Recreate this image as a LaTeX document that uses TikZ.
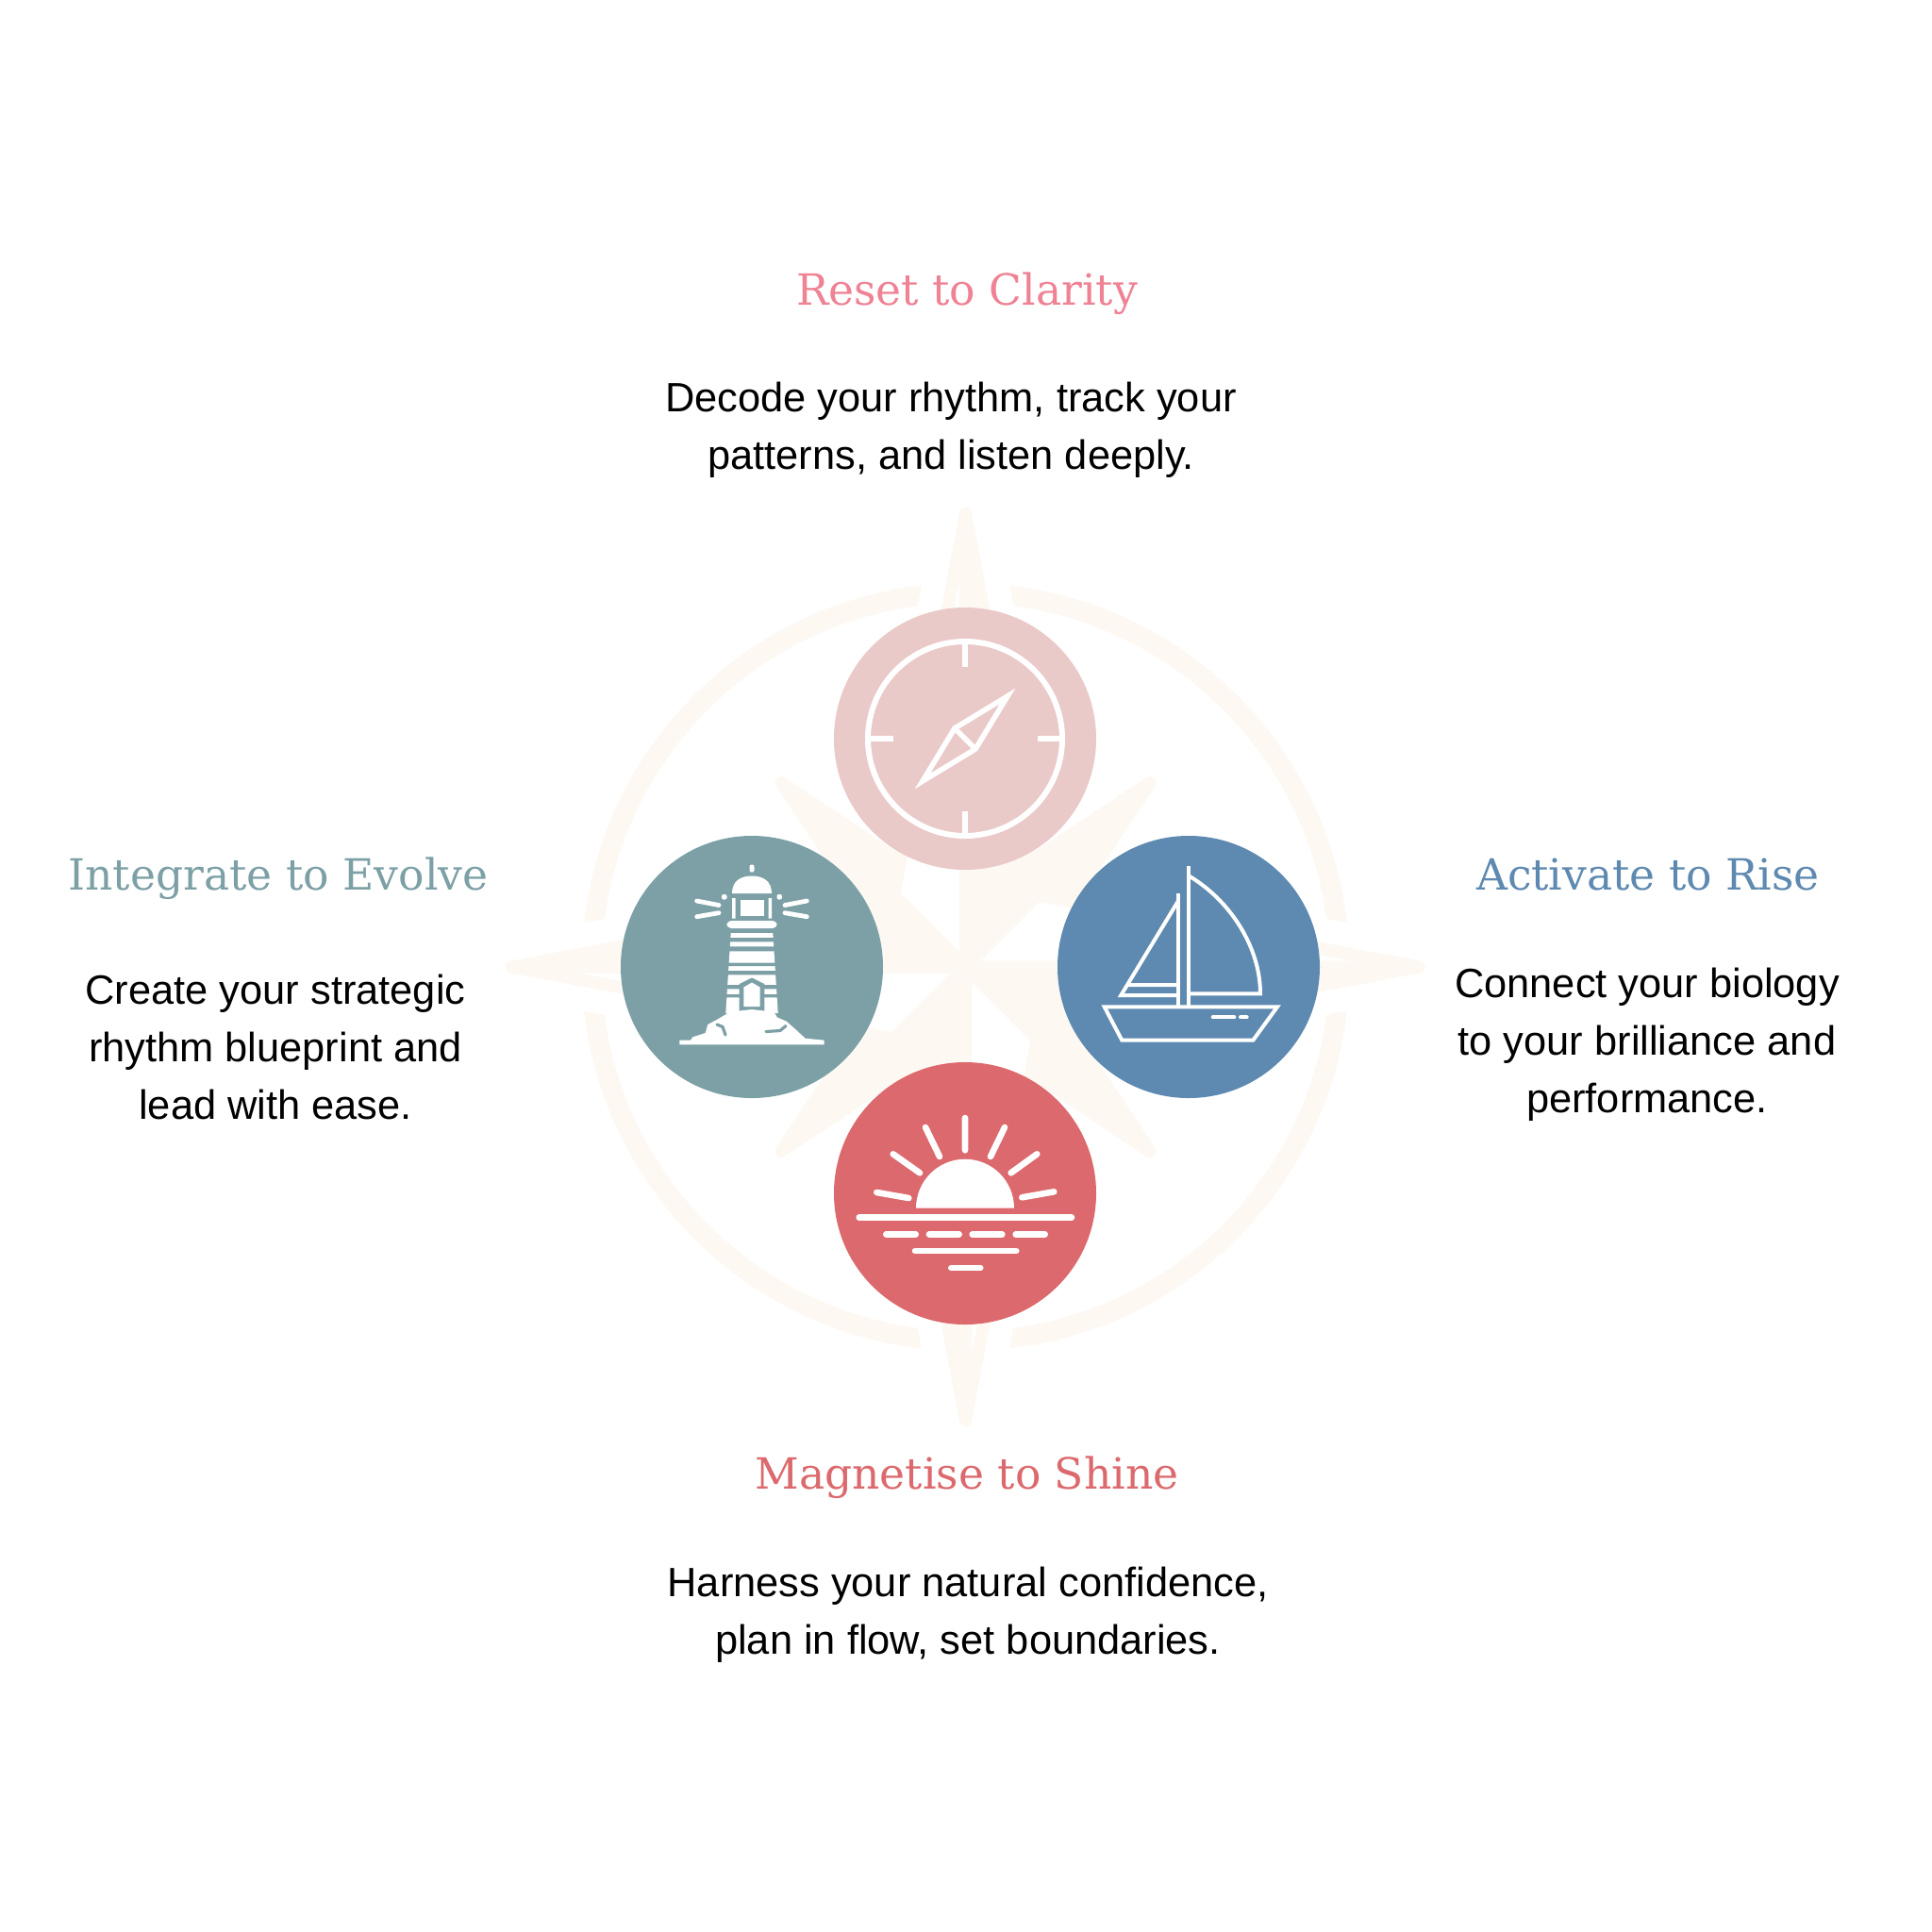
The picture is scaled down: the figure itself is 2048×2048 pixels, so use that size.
\documentclass[tikz,border=0pt]{standalone}
\usepackage{fontspec}
\setmainfont{Liberation Sans}
\newfontfamily\titlefont{DejaVu Serif}
\definecolor{cream}{HTML}{FDF8F2}
\definecolor{pinkC}{HTML}{EAC9C9}
\definecolor{tealC}{HTML}{7CA0A6}
\definecolor{blueC}{HTML}{5E89B0}
\definecolor{redC}{HTML}{DC696D}
\definecolor{ttlPink}{HTML}{EF8294}
\begin{document}
\begin{tikzpicture}[x=0.25pt,y=-0.25pt,
  ttl/.style={font=\titlefont\fontsize{11.4}{13}\selectfont, anchor=base, inner sep=0},
  bdy/.style={font=\fontsize{10.85}{13}\selectfont, anchor=base, inner sep=0, text=black},
  disc/.style={circle, inner sep=0, minimum size=69.5pt},
  wl/.style={draw=white, line cap=round, line join=round},
  starln/.style={line width=3.25pt, line join=round}]
\useasboundingbox (0,0) rectangle (2048,2048);
\fill[white] (0,0) rectangle (2048,2048);
\coordinate (C) at (1023.5,1025);
% compass ring
\draw[cream, line width=5.25pt] (C) circle[radius=396.5];
% gaps in the ring
\foreach \a in {0,90,180,270} {
  \begin{scope}[shift={(C)}, rotate=\a]
    \filldraw[white, line width=16pt, line join=round] (0,-480.5) -- (-76,-76) -- (76,-76) -- cycle;
  \end{scope}}
% diagonal points
\foreach \a in {0,90,180,270} {
  \begin{scope}[shift={(C)}, rotate=\a]
    \filldraw[cream, starln] (195.5,-195.5) -- (66,0) -- (0,0) -- (0,-66) -- cycle;
  \end{scope}}
% cardinal points
\foreach \a in {0,90,180,270} {
  \begin{scope}[shift={(C)}, rotate=\a]
    \filldraw[draw=cream, fill=white, starln] (0,-480.5) -- (-76,-76) -- (0,0) -- cycle;
    \filldraw[cream, starln] (0,-480.5) -- (76,-76) -- (0,0) -- cycle;
  \end{scope}}
% discs
\node[disc, fill=pinkC] (top) at (1023,783) {};
\node[disc, fill=tealC] (left) at (797,1025) {};
\node[disc, fill=blueC] (right) at (1260,1025) {};
\node[disc, fill=redC] (bottom) at (1023,1265) {};
% compass icon
\begin{scope}[shift={(top.center)}]
  \draw[white, line width=1.5pt] (0,0) circle[radius=103];
  \draw[white, line width=1.7pt] (0,-101) -- (0,-76.5) (0,101) -- (0,76.5) (-101,0) -- (-76.5,0) (101,0) -- (76.5,0);
  \draw[white, line width=1.4pt, line join=miter] (45,-45) -- (-11,-11) -- (-45,45) -- (11,11) -- cycle (-11,-11) -- (11,11);
\end{scope}
% lighthouse icon
\begin{scope}[shift={(left.center)}]
  \fill[white, rounded corners=0.5pt] (-2.5,-108.5) rectangle (2.5,-100.5);
  \fill[white] (-21,-78) .. controls (-21,-91) and (-12,-96.5) .. (0,-96.5) .. controls (12,-96.5) and (21,-91) .. (21,-78) -- cycle;
  \fill[white, rounded corners=0.5pt] (-32,-77) rectangle (-26.5,-71.5) (26.5,-77) rectangle (32,-71.5);
  \fill[white] (-21,-73) rectangle (-17.5,-51.5) (17.5,-73) rectangle (21,-51.5);
  \fill[white] (-12.5,-71) rectangle (12.5,-54.5);
  \fill[white, rounded corners=1.2pt] (-26.7,-49) rectangle (26.7,-41);
  \fill[white] (-22.3,-36) -- (22.3,-36) -- (27.7,49) -- (-27.7,49) -- cycle;
  \fill[tealC] (-30,-31) rectangle (30,-26.7) (-30,-21.7) rectangle (30,-16.7)
     (-30,-4.3) rectangle (30,-1) (-30,4) rectangle (30,8.3)
     (-30,19) rectangle (30,23.3) (-30,29) rectangle (30,32.3);
  \fill[tealC] (-13.3,50) -- (-13.3,18) -- (0,11.5) -- (13.3,18) -- (13.3,50) -- cycle;
  \fill[white] (-8.7,42) -- (-8.7,21.5) -- (0,16.5) -- (8.7,21.5) -- (8.7,42) -- cycle;
  \fill[white] (-76.7,82.3) -- (76.7,82.3) -- (76.7,77.7) -- (56.7,75.7) -- (45,65) -- (36.7,57.7)
     -- (26.7,53.3) -- (23.3,47.7) -- (0,45) -- (-23.3,47.7) -- (-36.7,55.7) -- (-46.7,61)
     -- (-49.3,70) -- (-62.7,74.3) -- (-65,77.7) -- (-76.7,77.7) -- cycle;
  \draw[tealC, line width=0.8pt, line cap=round, line join=round] (-37,61) -- (-31,63.5) -- (-28,72);
  \draw[tealC, line width=0.8pt, line cap=round, line join=round] (15,68.5) -- (30,67.5) -- (36,62.5);
  \draw[wl, line width=1.2pt] (-58.3,-70) -- (-35,-65.5) (-58.3,-53.3) -- (-35,-57.3)
     (58.3,-70) -- (35,-65.5) (58.3,-53.3) -- (35,-57.3);
\end{scope}
% sailboat icon
\begin{scope}[shift={(right.center)}, line width=1pt]
  \draw[white, line join=miter] (-89.3,42.3) -- (94,42.3) -- (68.3,77.7) -- (-70.7,77.7) -- cycle;
  \draw[wl] (25.7,53.3) -- (48.3,53.3) (55,53.3) -- (61.7,53.3);
  \draw[white] (0,-106.7) -- (0,42.3) (-11,-77.7) -- (-11,42.3);
  \draw[white, line join=miter] (-11,-70) -- (-71.7,30) -- (-11,30) (-64,19) -- (-11,19);
  \draw[white, line join=miter] (0,-96.7) .. controls (45,-70) and (76,-20) .. (76,28.3) -- (0,28.3);
\end{scope}
% sunset icon
\begin{scope}[shift={(bottom.center)}]
  \fill[white] (-52,15.7) .. controls (-52,-13) and (-28.7,-36.3) .. (0,-36.3) .. controls (28.7,-36.3) and (52,-13) .. (52,15.7) -- cycle;
  \draw[wl, line width=1.65pt] (0,-80) -- (0,-45.7) (-42,-70) -- (-27,-39) (42,-70) -- (27,-39)
     (-76.3,-41.7) -- (-48,-21.7) (76.3,-41.7) -- (48.7,-21.7)
     (-93.7,-1) -- (-59.7,5) (94.3,-1.7) -- (60.3,4.3);
  \draw[wl, line width=1.65pt] (-112.3,25.7) -- (113,25.7)
     (-83.7,43.3) -- (-52.3,43.3) (-38,43.3) -- (-6.3,43.3) (7.7,43.3) -- (39.3,43.3) (53.7,43.3) -- (84.7,43.3)
     (-53,61) -- (54.3,61) (-14.7,79) -- (16.3,79);
\end{scope}
% texts
\node[ttl, text=ttlPink] (t1) at (1025,323) {Reset to Clarity};
\node[bdy] (b1a) at (1008,436) {Decode your rhythm, track your};
\node[bdy] (b1b) at (1008,497) {patterns, and listen deeply.};
\node[ttl, text=tealC] (t2) at (295,943) {Integrate to Evolve};
\node[bdy] (b2a) at (292,1064) {Create your strategic};
\node[bdy] (b2b) at (292,1125) {rhythm blueprint and};
\node[bdy] (b2c) at (292,1186) {lead with ease.};
\node[ttl, text=blueC] (t3) at (1747,943) {Activate to Rise};
\node[bdy] (b3a) at (1746,1057) {Connect your biology};
\node[bdy] (b3b) at (1746,1118) {to your brilliance and};
\node[bdy] (b3c) at (1746,1179) {performance.};
\node[ttl, text=redC] (t4) at (1025,1578) {Magnetise to Shine};
\node[bdy] (b4a) at (1026,1692) {Harness your natural confidence,};
\node[bdy] (b4b) at (1026,1753) {plan in flow, set boundaries.};
\end{tikzpicture}
\end{document}
